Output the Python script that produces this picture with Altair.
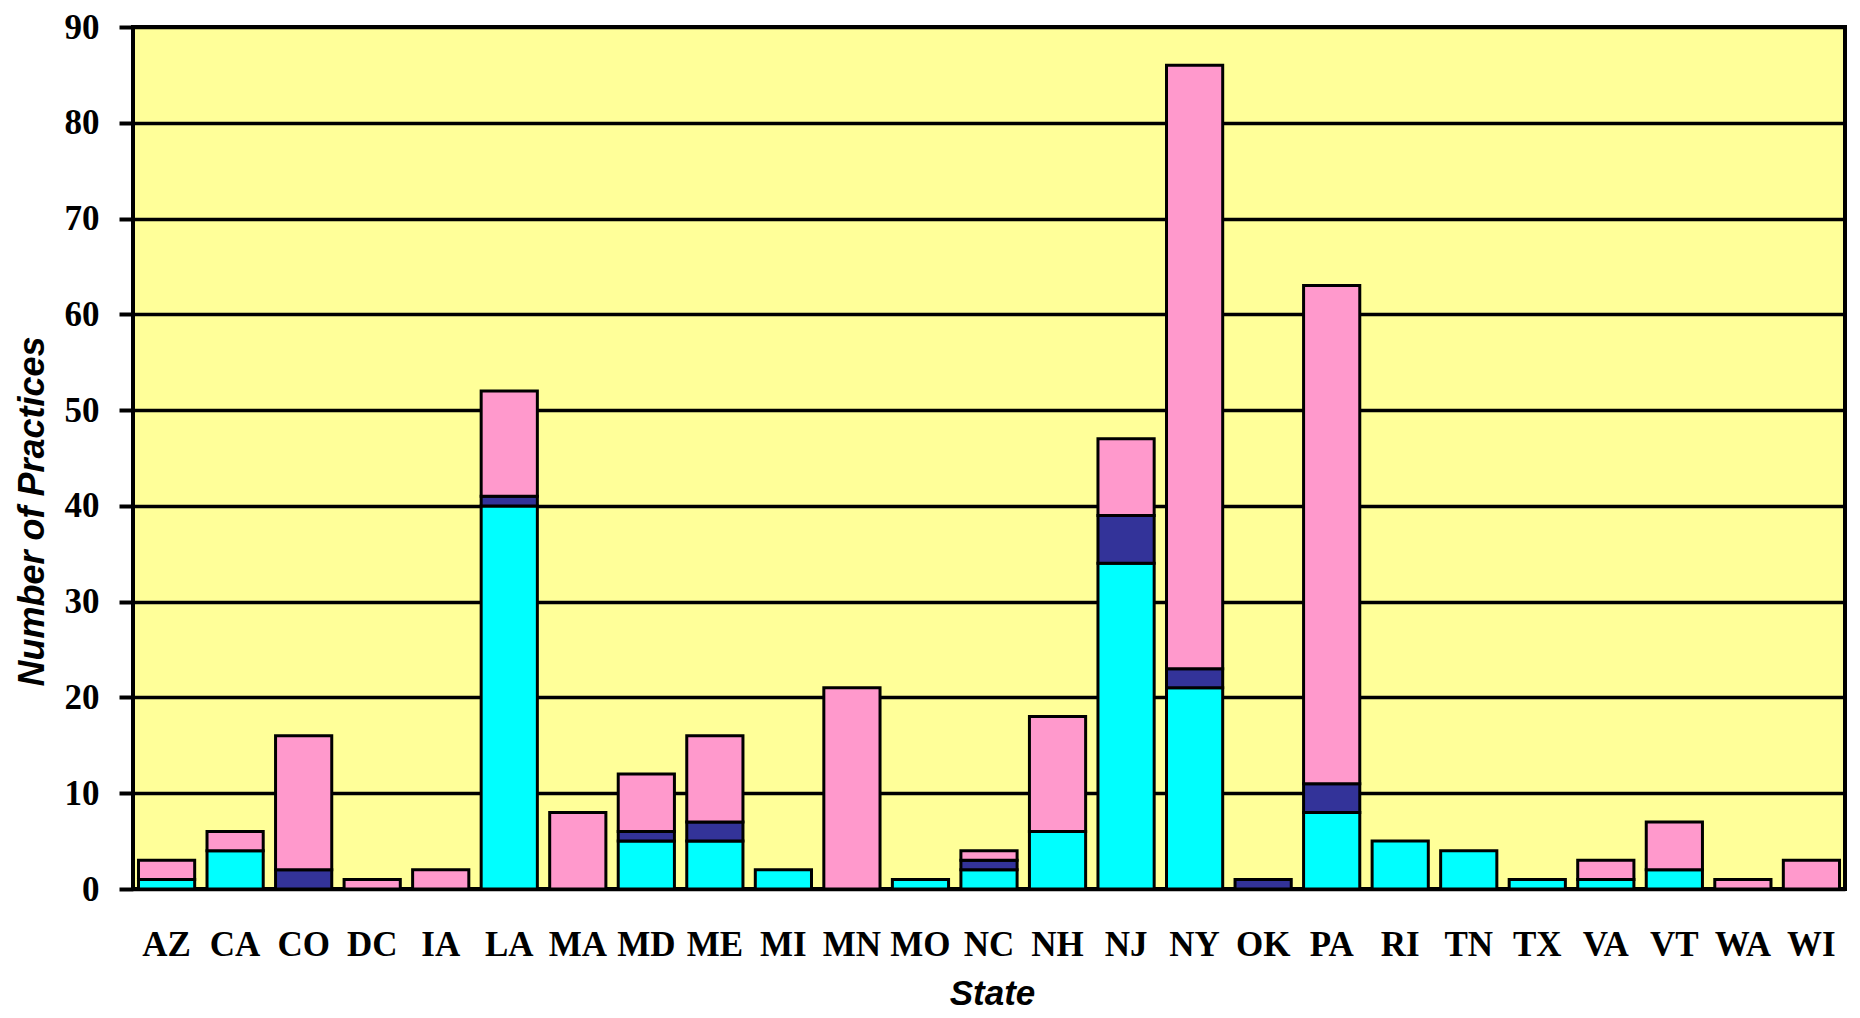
import altair as alt
import pandas as pd

states = ["AZ", "CA", "CO", "DC", "IA", "LA", "MA", "MD", "ME", "MI", "MN", "MO", "NC",
          "NH", "NJ", "NY", "OK", "PA", "RI", "TN", "TX", "VA", "VT", "WA", "WI"]
cyan_vals = [1, 4, 0, 0, 0, 40, 0, 5, 5, 2, 0, 1, 2, 6, 34, 21, 0, 8, 5, 4, 1, 1, 2, 0, 0]
navy_vals = [0, 0, 2, 0, 0, 1, 0, 1, 2, 0, 0, 0, 1, 0, 5, 2, 1, 3, 0, 0, 0, 0, 0, 0, 0]
pink_vals = [2, 2, 14, 1, 2, 11, 8, 6, 9, 0, 21, 0, 1, 12, 8, 63, 0, 52, 0, 0, 0, 2, 5, 1, 3]

series_names = ["Series 1", "Series 2", "Series 3"]
series_colors = ["#00FFFF", "#333399", "#FF99CC"]
y_ticks = [0, 10, 20, 30, 40, 50, 60, 70, 80, 90]

rows = []
for i, s in enumerate(states):
    for k, vals in enumerate([cyan_vals, navy_vals, pink_vals]):
        if vals[i] > 0:
            rows.append({"State": s, "Series": series_names[k], "order": k, "value": vals[i]})
df = pd.DataFrame(rows)

chart = alt.Chart(df).mark_bar(stroke="black", strokeWidth=3).encode(
    x=alt.X("State:N", sort=states,
            scale=alt.Scale(paddingInner=0.18, paddingOuter=0.08),
            axis=alt.Axis(title="State", labelAngle=0, labelFont="Liberation Serif",
                          labelFontSize=35, labelFontWeight="bold", labelColor="black",
                          labelOverlap=False, labelBaseline="top", labelPadding=38,
                          ticks=False, tickSize=0, domain=False,
                          titleFont="Liberation Sans", titleFontSize=35,
                          titleFontWeight="bold", titleFontStyle="italic", titleColor="black",
                          titleBaseline="middle", titleY=104, titleX=859)),
    y=alt.Y("value:Q", stack="zero",
            scale=alt.Scale(domain=[0, 90], nice=False),
            axis=alt.Axis(title="Number of Practices", values=y_ticks,
                          labelFont="Liberation Serif", labelFontSize=35,
                          labelFontWeight="bold", labelColor="black", labelPadding=20,
                          ticks=True, tickSize=14, tickWidth=4, tickColor="black",
                          domain=False, grid=True, gridColor="black", gridWidth=3.5,
                          gridOpacity=1,
                          titleFont="Liberation Sans", titleFontSize=36,
                          titleFontWeight="bold", titleFontStyle="italic", titleColor="black",
                          titleAngle=-90, titleBaseline="middle", titleAlign="center",
                          titleX=-101, titleY=484)),
    color=alt.Color("Series:N", scale=alt.Scale(domain=series_names, range=series_colors),
                    legend=None),
    order=alt.Order("order:Q", sort="ascending"),
).properties(
    width=1712, height=862,
    autosize=alt.AutoSizeParams(type="none"),
    padding={"left": 125, "top": 19, "right": 7, "bottom": 121},
    background="white",
).configure_view(
    fill="#FFFF99", stroke="black", strokeWidth=4
)

chart.save("out.html", embed_options={"renderer": "svg", "actions": False})
